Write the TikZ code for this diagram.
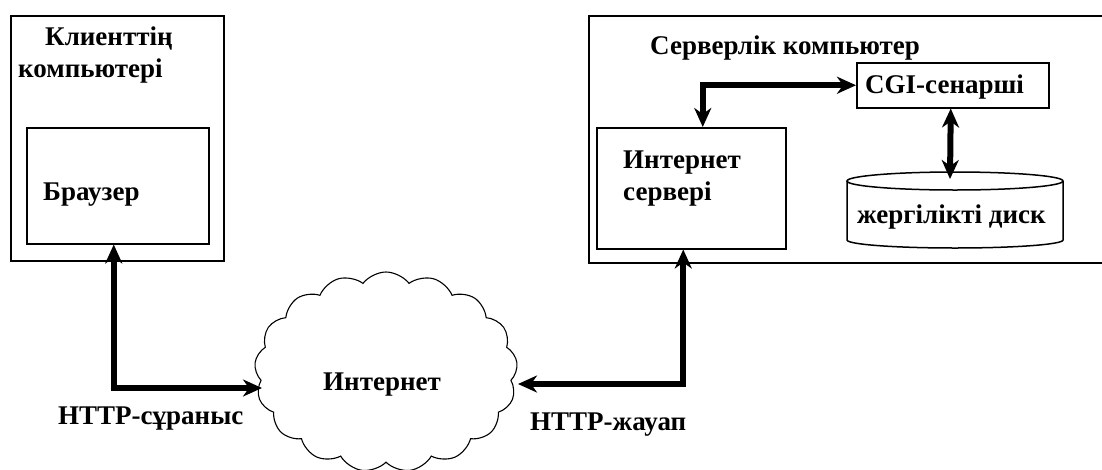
\documentclass[tikz,border=0pt]{standalone}
\usepackage{fontspec}
\setmainfont{Liberation Serif}
\usetikzlibrary{arrows.meta,shapes.symbols}

\begin{document}
\begin{tikzpicture}[x=1pt,y=-1pt,
  frame/.style={draw, line width=1.5pt, fill=white},
  boxnode/.style={frame, anchor=north west, inner sep=0pt},
  lbl/.style={font=\fontsize{27}{31}\selectfont\bfseries, inner sep=0pt, anchor=base west},
  link/.style={line width=6pt, {Stealth[length=19pt,width=17pt,inset=6pt]}-{Stealth[length=19pt,width=17pt,inset=6pt]}}
]
\useasboundingbox (0,0) rectangle (1102,469);
\clip (0,0) rectangle (1102,469);

% client side
\node[boxnode, minimum width=213pt, minimum height=245pt] (client) at (10,15) {};
\node[boxnode, minimum width=182pt, minimum height=116pt] (browser) at (26,127) {};
\node[lbl] (clientA) at (45,45) {Клиенттің};
\node[lbl] (clientB) at (18,77) {компьютері};
\node[lbl] (browserT) at (43,200) {Браузер};

% server side
\node[boxnode, minimum width=524pt, minimum height=247pt] (server) at (588,15) {};
\node[lbl] (serverT) at (650,54) {Серверлік компьютер};
\node[boxnode, minimum width=189pt, minimum height=121pt] (isrv) at (596,127) {};
\node[lbl] (isrvA) at (623,168) {Интернет};
\node[lbl] (isrvB) at (623,200) {сервері};
\node[boxnode, minimum width=192pt, minimum height=45pt] (cgi) at (856,62) {};
\node[lbl] (cgiT) at (865,93) {CGI-сенарші};

% local disk drawn as a cylinder
\fill[white] (847,181) -- (847,240) arc[start angle=180, end angle=0, x radius=108, y radius=8] -- (1063,181) -- cycle;
\draw[line width=1.5pt] (847,181) -- (847,240) arc[start angle=180, end angle=0, x radius=108, y radius=8] -- (1063,181);
\draw[line width=1.5pt, fill=white] (955,181) ellipse [x radius=108, y radius=9];
\coordinate (disktop) at (950,179);
\node[lbl] (diskT) at (857,223) {жергілікті диск};

% the Internet cloud
\node[cloud, draw, line width=1.1pt, cloud puffs=17, cloud puff arc=105, aspect=1.35,
      minimum width=263pt, minimum height=200pt, inner sep=0pt] (net) at (386,372) {};
\node[lbl] (netT) at (323,390) {Интернет};
\coordinate (netL) at (262,388);
\coordinate (netR) at (518,384);

% connectors
\draw[link] ([xshift=-4pt]browser.south) |- (netL);
\draw[link] ([xshift=-8pt]isrv.south) |- (netR);
\draw[link] ([xshift=11.5pt]isrv.north) |- (cgi.west);
\draw[link] ([xshift=-2pt]cgi.south) -- (disktop);

\node[lbl] (req) at (58,424) {HTTP-сұраныс};
\node[lbl] (resp) at (530,430) {HTTP-жауап};
\end{tikzpicture}
\end{document}
